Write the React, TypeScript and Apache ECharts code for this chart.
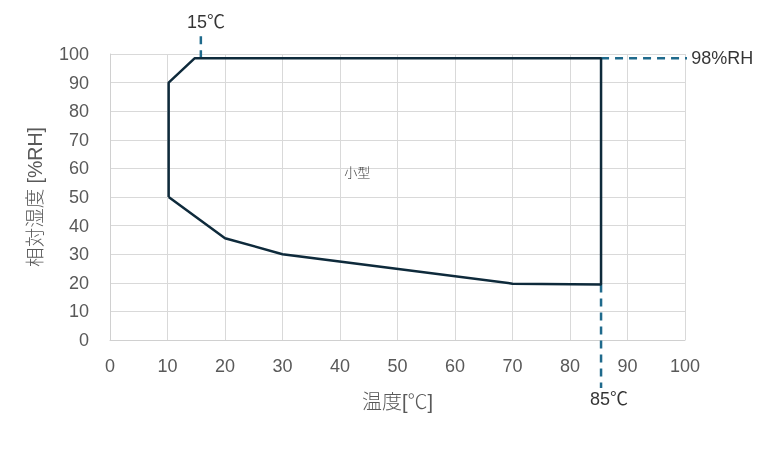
import React, { useEffect, useRef } from "react";
import * as echarts from "echarts";

const xTicks = [0, 10, 20, 30, 40, 50, 60, 70, 80, 90, 100];
const yTicks = [0, 10, 20, 30, 40, 50, 60, 70, 80, 90, 100];
const envelopeX = [10.2, 10.2, 14.7, 85.4, 85.4, 70, 30, 20, 10.2];
const envelopeY = [50, 90, 98.5, 98.5, 19.4, 19.7, 30, 35.6, 50];
const tempMinX = [15.8, 15.8];
const tempMinY = [98.5, 107.5];
const humidX = [85.4, 100.9];
const humidY = [98.5, 98.5];
const tempMaxX = [85.4, 85.4];
const tempMaxY = [19.4, -16.8];
const labelTexts = ["15℃", "98%RH", "85℃", "小型"];

const FONT = "'Liberation Sans', 'Noto Sans CJK JP', sans-serif";

export default function App() {
  const ref = useRef<HTMLDivElement>(null);
  useEffect(() => {
    const chart = echarts.init(ref.current!, undefined, { renderer: "svg" });
    const zip = (xs: number[], ys: number[]) => xs.map((x, i) => [x, ys[i]]);
    const dashStyle = { color: "#1f6a8c", width: 2.5, type: [8, 6] as any };
    chart.setOption({
      animation: false,
      textStyle: { fontFamily: FONT },
      grid: { left: 110, right: 80, top: 54, bottom: 111 },
      xAxis: {
        type: "value",
        min: 0,
        max: 100,
        interval: 10,
        name: "温度[℃]",
        nameLocation: "middle",
        nameGap: 52,
        nameTextStyle: { fontSize: 20, color: "#595959", fontFamily: FONT, fontWeight: 300 },
        axisLine: { show: true, lineStyle: { color: "#d0d0d0" } },
        axisTick: { show: false },
        axisLabel: { fontSize: 18, color: "#595959", margin: 17, fontFamily: FONT, formatter: (v: number) => (xTicks.includes(v) ? String(v) : "") },
        splitLine: { lineStyle: { color: "#d9d9d9" } },
      },
      yAxis: {
        type: "value",
        min: 0,
        max: 100,
        interval: 10,
        name: "相対湿度 [%RH]",
        nameLocation: "middle",
        nameGap: 65,
        nameTextStyle: { fontSize: 19.5, color: "#595959", fontFamily: FONT, fontWeight: 300 },
        axisLine: { show: true, lineStyle: { color: "#d0d0d0" } },
        axisTick: { show: false },
        axisLabel: { fontSize: 18, color: "#595959", margin: 21, fontFamily: FONT, formatter: (v: number) => (yTicks.includes(v) ? String(v) : "") },
        splitLine: { lineStyle: { color: "#d9d9d9" } },
      },
      series: [
        { type: "line", data: zip(tempMinX, tempMinY), showSymbol: false, clip: false, lineStyle: dashStyle, silent: true },
        { type: "line", data: zip(humidX, humidY), showSymbol: false, clip: false, lineStyle: dashStyle, silent: true },
        { type: "line", data: zip(tempMaxX, tempMaxY), showSymbol: false, clip: false, lineStyle: dashStyle, silent: true },
        {
          type: "line",
          data: zip(envelopeX, envelopeY),
          showSymbol: false,
          clip: false,
          lineStyle: { color: "#0e2a3b", width: 2.5 },
          silent: true,
        },
        {
          type: "scatter",
          symbolSize: 0,
          clip: false,
          silent: true,
          data: [
            { value: [16.7, 111.2], label: { show: true, formatter: labelTexts[0], position: "inside" } },
            { value: [humidX[1], humidY[1]], label: { show: true, formatter: labelTexts[1], position: "right", distance: 1 } },
            { value: [86.8, -20.6], label: { show: true, formatter: labelTexts[2], position: "inside" } },
            { value: [43, 58.7], label: { show: true, formatter: labelTexts[3], position: "inside", fontSize: 13, fontWeight: 300 } },
          ],
          label: { color: "#000", fontSize: 18, fontFamily: FONT },
        },
      ],
    });
    return () => chart.dispose();
  }, []);
  return <div ref={ref} style={{ position: "fixed", left: 0, top: 0, width: 765, height: 451 }} />;
}
